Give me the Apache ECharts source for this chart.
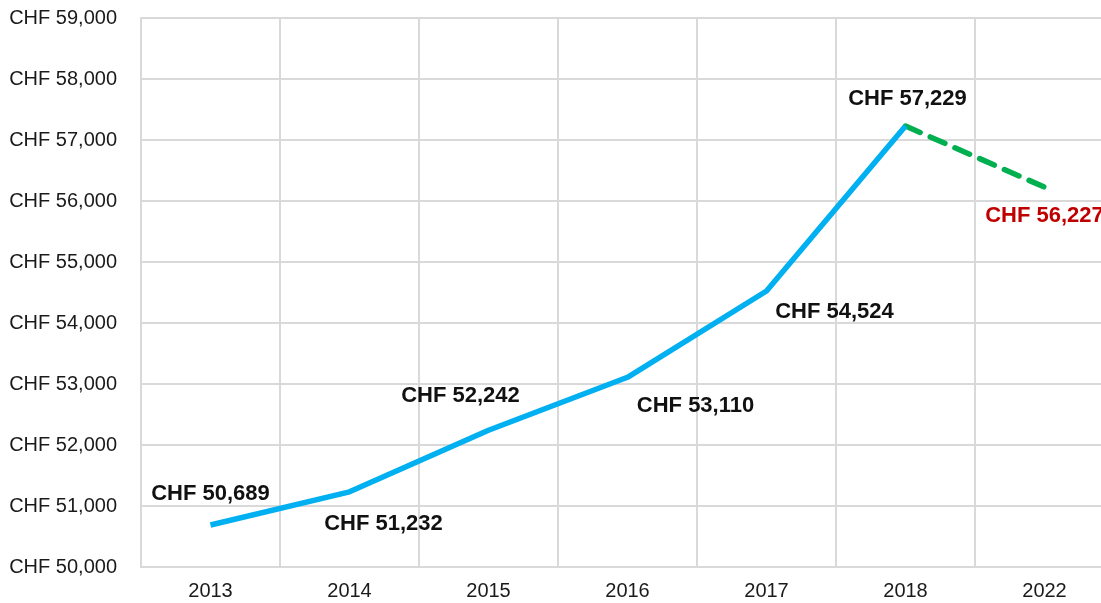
<!DOCTYPE html>
<html><head><meta charset="utf-8">
<script src="https://cdn.jsdelivr.net/npm/echarts@6/dist/echarts.min.js"></script>
<style>html,body{margin:0;padding:0;background:#fff;overflow:hidden}#c{width:1114px;height:603px}</style>
</head><body><div id="c"></div>
<script>
const categories = ['2013','2014','2015','2016','2017','2018','2022'];
const actualValues = [50689, 51232, 52242, 53110, 54524, 57229, null];
const forecastValues = [null, null, null, null, null, 57229, 56227];
const yTicks = [50000, 51000, 52000, 53000, 54000, 55000, 56000, 57000, 58000, 59000];
const labelOffsets = [[0,-31],[34,32],[-28,-34],[68,29],[68,21],[2,-27],[0,29]];

const fmt = v => 'CHF ' + v.toLocaleString('en-US');
const labelFont = {fontFamily:'Liberation Sans, Arial, sans-serif', fontSize:22, fontWeight:'bold'};

const chart = echarts.init(document.getElementById('c'), null, {renderer:'canvas'});
chart.setOption({
  animation:false,
  grid:{left:141, top:18, right:0, bottom:36},
  xAxis:{
    type:'category', data:categories, boundaryGap:true,
    axisLine:{show:true, lineStyle:{color:'#d9d9d9', width:2}},
    axisTick:{show:false},
    splitLine:{show:true, lineStyle:{color:'#d9d9d9', width:2}},
    axisLabel:{color:'#1a1a1a', fontSize:20, fontFamily:'Liberation Sans, Arial, sans-serif', margin:14}
  },
  yAxis:{
    type:'value', min:yTicks[0], max:yTicks[yTicks.length-1], interval:1000,
    axisLine:{show:true, lineStyle:{color:'#d9d9d9', width:2}},
    axisTick:{show:false},
    splitLine:{show:true, lineStyle:{color:'#d9d9d9', width:2}},
    axisLabel:{color:'#1a1a1a', fontSize:20, fontFamily:'Liberation Sans, Arial, sans-serif', margin:24, formatter:fmt}
  },
  series:[
    {
      type:'line', data:actualValues.map((v,i)=>({value:v, label:{offset:labelOffsets[i]}})),
      symbol:'circle', symbolSize:1, showSymbol:true, connectNulls:false,
      itemStyle:{color:'rgba(0,0,0,0)'},
      lineStyle:{color:'#00b0f0', width:5.5},
      label:{show:true, position:'inside', color:'#111', formatter:p=>fmt(p.value), ...labelFont},
      z:3
    },
    {
      type:'line', data:forecastValues.map((v,i)=>({value:v, label:{show:i===6, offset:labelOffsets[i]}})),
      symbol:'circle', symbolSize:1, showSymbol:true,
      itemStyle:{color:'rgba(0,0,0,0)'},
      lineStyle:{color:'#00b050', width:5.5, type:[16,11], cap:'round'},
      label:{show:false, position:'inside', color:'#c00000', formatter:p=>fmt(p.value), ...labelFont},
      z:2
    }
  ]
});
</script></body></html>
